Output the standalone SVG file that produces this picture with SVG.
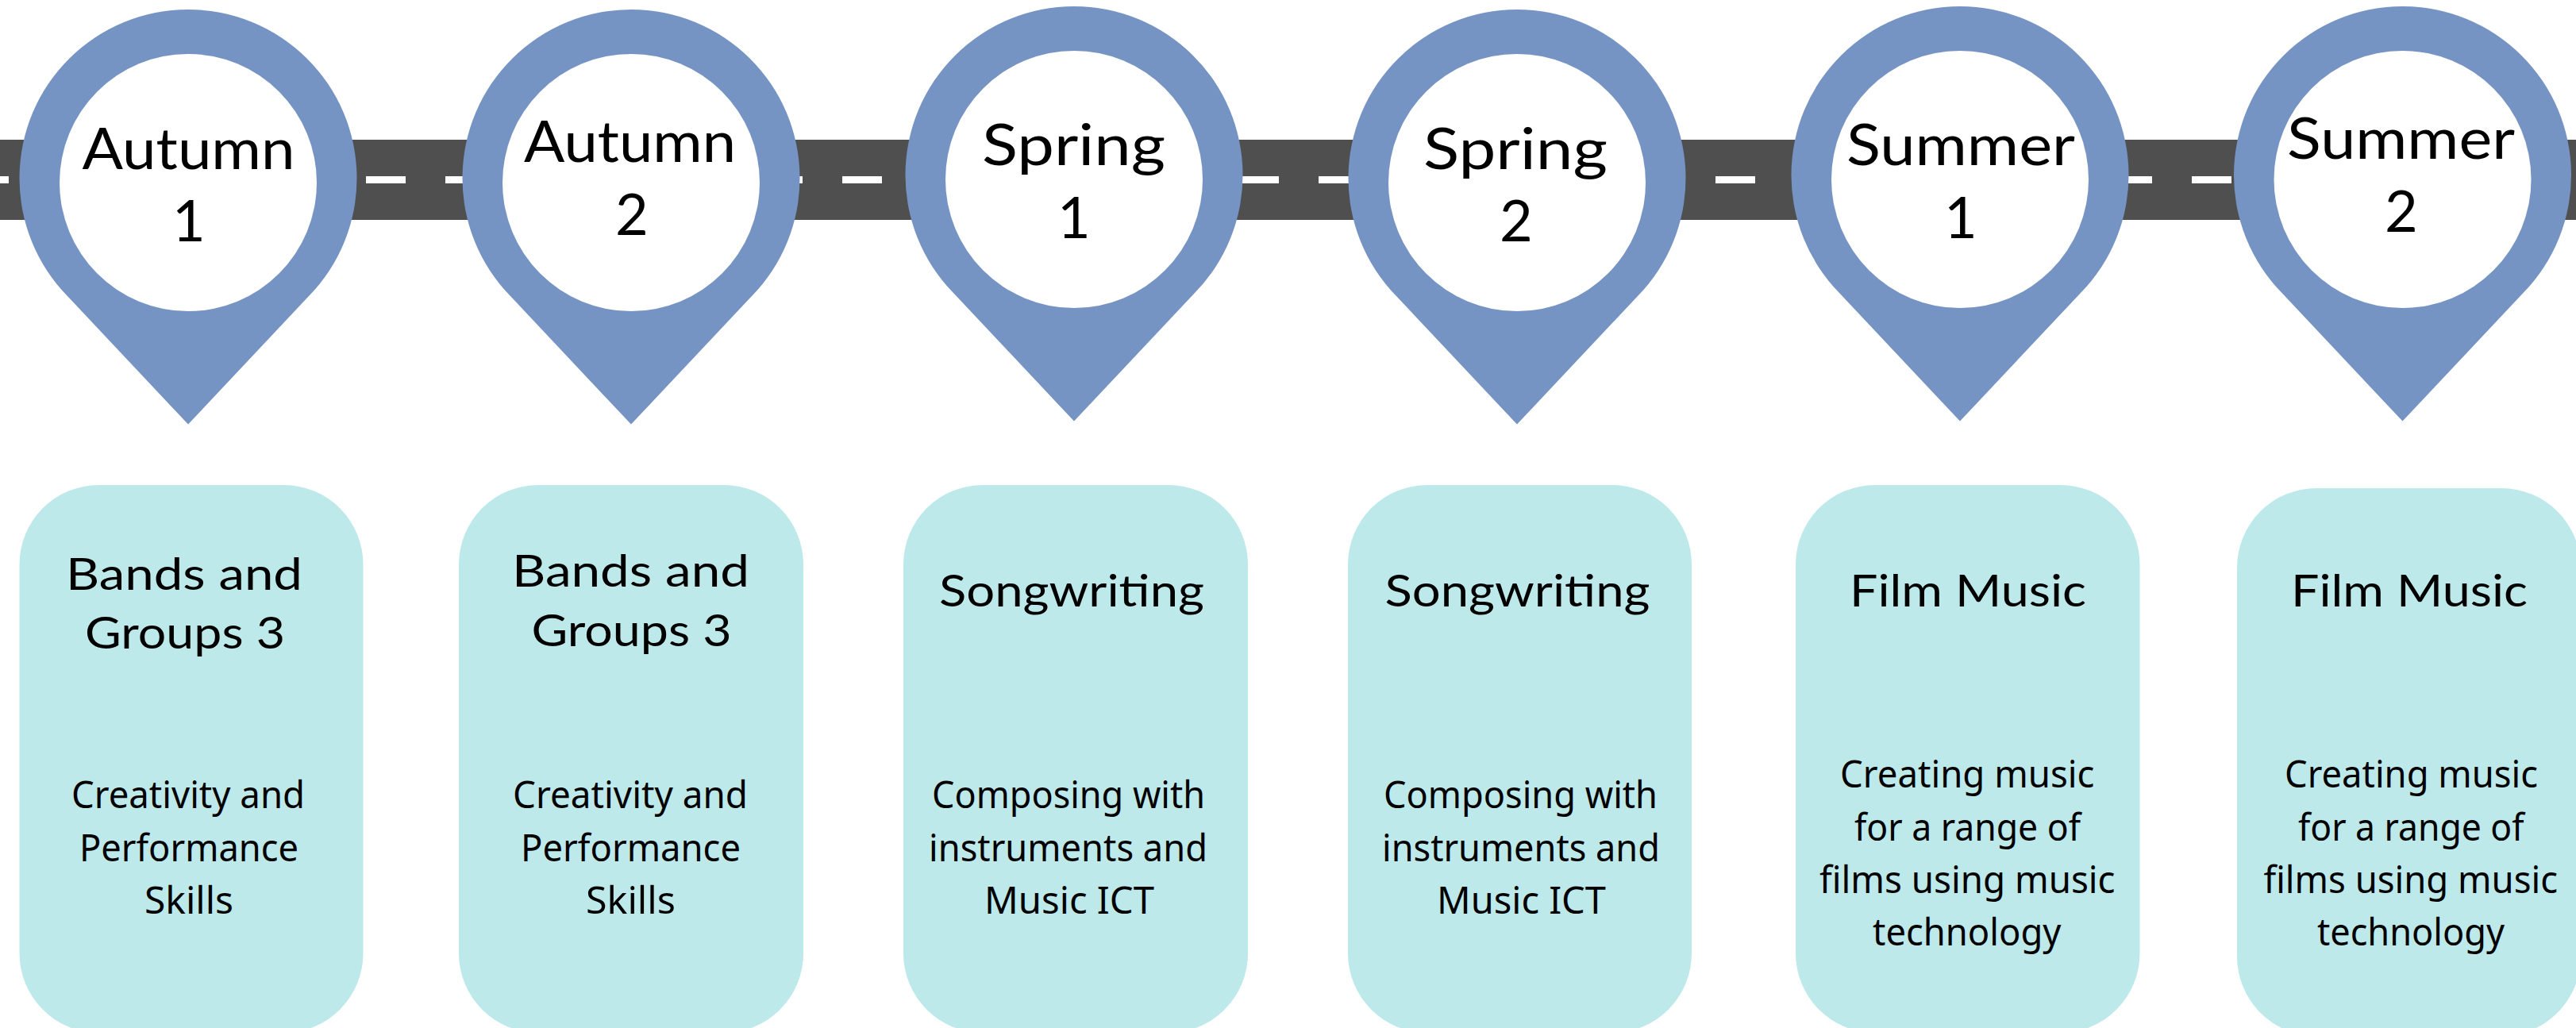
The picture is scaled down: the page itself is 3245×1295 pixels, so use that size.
<svg xmlns="http://www.w3.org/2000/svg" width="3245" height="1295" viewBox="0 0 3245 1295">
<style>
.road{fill:#4f4f4f}
.dash{stroke:#fff;stroke-width:9;stroke-dasharray:50 50;fill:none}
.pin{fill:#7694c3}
.hole{fill:#fff}
.card{fill:#bee9ea}
text{fill:#000}
.t{font-family:"Lato","Liberation Sans",sans-serif;font-size:72px}
.h{font-family:"Lato","Liberation Sans",sans-serif;font-size:56px}
.b{font-family:"Noto Sans","Liberation Sans",sans-serif;font-size:48px}
.n{text-anchor:middle}
</style>
<defs>
<path id="pinshape" class="pin" d="M-152 361A212.5 212.5 0 1 1 152 361L0 522.6Z"/>
</defs>
<g id="connectors">
<rect class="road" x="0" y="176" width="3245" height="101"/>
<line class="dash" x1="-39" y1="226.500" x2="3245" y2="226.500"/>
</g>
<g id="pin-autumn-1">
<use href="#pinshape" x="237" y="12"/><circle class="hole" cx="237" cy="230" r="162"/>
<text class="t" x="103.500" y="212.500" textLength="268" lengthAdjust="spacingAndGlyphs">Autumn</text>
<text class="t n" x="238" y="303.500">1</text>
</g>
<g id="pin-autumn-2">
<use href="#pinshape" x="795" y="12"/><circle class="hole" cx="795" cy="230" r="162"/>
<text class="t" x="660" y="204" textLength="267" lengthAdjust="spacingAndGlyphs">Autumn</text>
<text class="t n" x="796" y="296">2</text>
</g>
<g id="pin-spring-1">
<use href="#pinshape" x="1353" y="8"/><circle class="hole" cx="1353" cy="226" r="162"/>
<text class="t" x="1237" y="208" textLength="231" lengthAdjust="spacingAndGlyphs">Spring</text>
<text class="t n" x="1353" y="300">1</text>
</g>
<g id="pin-spring-2">
<use href="#pinshape" x="1911" y="12"/><circle class="hole" cx="1911" cy="230" r="162"/>
<text class="t" x="1793" y="212.500" textLength="232" lengthAdjust="spacingAndGlyphs">Spring</text>
<text class="t n" x="1910" y="304">2</text>
</g>
<g id="pin-summer-1">
<use href="#pinshape" x="2469" y="8"/><circle class="hole" cx="2469" cy="226" r="162"/>
<text class="t" x="2326" y="208" textLength="288" lengthAdjust="spacingAndGlyphs">Summer</text>
<text class="t n" x="2470" y="300">1</text>
</g>
<g id="pin-summer-2">
<use href="#pinshape" x="3026.500" y="8"/><circle class="hole" cx="3026.500" cy="226" r="162"/>
<text class="t" x="2881" y="200" textLength="287" lengthAdjust="spacingAndGlyphs">Summer</text>
<text class="t n" x="3025" y="292">2</text>
</g>
<g id="card-1">
<rect class="card" x="24.500" y="611" width="433" height="690" rx="100" ry="100"/>
<text class="h" x="83" y="743" textLength="298" lengthAdjust="spacingAndGlyphs">Bands and</text>
<text class="h" x="107" y="817" textLength="252" lengthAdjust="spacingAndGlyphs">Groups 3</text>
<text class="b" x="90" y="1018" textLength="294" lengthAdjust="spacingAndGlyphs">Creativity and</text>
<text class="b" x="100" y="1084.500" textLength="276" lengthAdjust="spacingAndGlyphs">Performance</text>
<text class="b" x="182" y="1151" textLength="112" lengthAdjust="spacingAndGlyphs">Skills</text>
</g>
<g id="card-2">
<rect class="card" x="578" y="611" width="434" height="690" rx="100" ry="100"/>
<text class="h" x="645" y="738.500" textLength="299" lengthAdjust="spacingAndGlyphs">Bands and</text>
<text class="h" x="669.500" y="813.500" textLength="252" lengthAdjust="spacingAndGlyphs">Groups 3</text>
<text class="b" x="646" y="1018" textLength="296" lengthAdjust="spacingAndGlyphs">Creativity and</text>
<text class="b" x="656" y="1084.500" textLength="277" lengthAdjust="spacingAndGlyphs">Performance</text>
<text class="b" x="738" y="1151" textLength="113" lengthAdjust="spacingAndGlyphs">Skills</text>
</g>
<g id="card-3">
<rect class="card" x="1138" y="611" width="434" height="690" rx="100" ry="100"/>
<text class="h" x="1183" y="763.500" textLength="334" lengthAdjust="spacingAndGlyphs">Songwriting</text>
<text class="b" x="1174" y="1018" textLength="344" lengthAdjust="spacingAndGlyphs">Composing with</text>
<text class="b" x="1170" y="1084.500" textLength="351" lengthAdjust="spacingAndGlyphs">instruments and</text>
<text class="b" x="1240" y="1151" textLength="214" lengthAdjust="spacingAndGlyphs">Music ICT</text>
</g>
<g id="card-4">
<rect class="card" x="1698" y="611" width="433" height="690" rx="100" ry="100"/>
<text class="h" x="1744.500" y="763.500" textLength="334" lengthAdjust="spacingAndGlyphs">Songwriting</text>
<text class="b" x="1743" y="1018" textLength="345" lengthAdjust="spacingAndGlyphs">Composing with</text>
<text class="b" x="1741" y="1084.500" textLength="350" lengthAdjust="spacingAndGlyphs">instruments and</text>
<text class="b" x="1810" y="1151" textLength="213" lengthAdjust="spacingAndGlyphs">Music ICT</text>
</g>
<g id="card-5">
<rect class="card" x="2262" y="611" width="433.500" height="690" rx="100" ry="100"/>
<text class="h" x="2330" y="763.500" textLength="298" lengthAdjust="spacingAndGlyphs">Film Music</text>
<text class="b" x="2318" y="992" textLength="320.500" lengthAdjust="spacingAndGlyphs">Creating music</text>
<text class="b" x="2336" y="1058.500" textLength="285" lengthAdjust="spacingAndGlyphs">for a range of</text>
<text class="b" x="2292" y="1125" textLength="372.500" lengthAdjust="spacingAndGlyphs">films using music</text>
<text class="b" x="2359" y="1191" textLength="237.500" lengthAdjust="spacingAndGlyphs">technology</text>
</g>
<g id="card-6">
<rect class="card" x="2818" y="615" width="433" height="690" rx="100" ry="100"/>
<text class="h" x="2886" y="763.500" textLength="298" lengthAdjust="spacingAndGlyphs">Film Music</text>
<text class="b" x="2878" y="992" textLength="319" lengthAdjust="spacingAndGlyphs">Creating music</text>
<text class="b" x="2895" y="1058.500" textLength="284.500" lengthAdjust="spacingAndGlyphs">for a range of</text>
<text class="b" x="2851.500" y="1125" textLength="370.500" lengthAdjust="spacingAndGlyphs">films using music</text>
<text class="b" x="2919" y="1191" textLength="236" lengthAdjust="spacingAndGlyphs">technology</text>
</g>
</svg>
